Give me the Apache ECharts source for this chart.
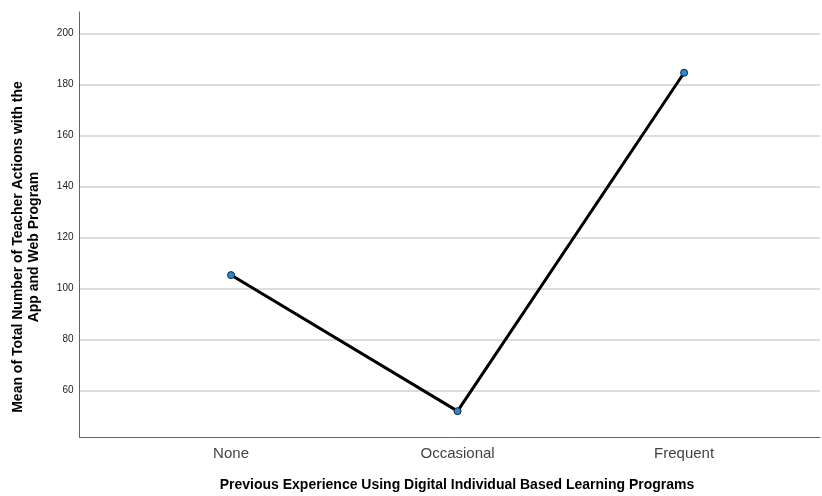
<!DOCTYPE html>
<html>
<head>
<meta charset="utf-8">
<script src="https://cdn.jsdelivr.net/npm/echarts@6/dist/echarts.min.js"></script>
<style>html,body{margin:0;padding:0;background:#fff;}#c{width:822px;height:496px;}</style>
</head>
<body>
<div id="c"></div>
<script>
const categories = ['None', 'Occasional', 'Frequent'];
const meanActions = [105.2, 51.8, 184.6];
const yTicks = [60, 80, 100, 120, 140, 160, 180, 200];
const xTitle = 'Previous Experience Using Digital Individual Based Learning Programs';
const yTitle = 'Mean of Total Number of Teacher Actions with the\nApp and Web Program';

const chart = echarts.init(document.getElementById('c'), null, {renderer: 'canvas'});
const gridColor = '#d2d2d2';
const splitColors = ['rgba(0,0,0,0)'].concat(yTicks.map(() => gridColor)).concat(['rgba(0,0,0,0)']);

chart.setOption({
  animation: false,
  backgroundColor: '#ffffff',
  grid: {left: 79.5, right: 2, top: 12, bottom: 59, containLabel: false},
  xAxis: {
    type: 'value',
    min: -0.669, max: 2.6,
    axisLine: {show: true, onZero: false, lineStyle: {color: '#666', width: 1}},
    axisTick: {show: false},
    splitLine: {show: false},
    axisLabel: {
      customValues: categories.map((c, i) => i),
      formatter: v => categories[Math.round(v)],
      color: '#444', fontSize: 15, fontFamily: 'Liberation Sans, Arial, sans-serif', margin: 9
    }
  },
  yAxis: {
    type: 'value',
    min: 41.66, max: 208.44,
    splitNumber: 8, minInterval: 20, maxInterval: 20,
    axisLine: {show: true, onZero: false, lineStyle: {color: '#666', width: 1}},
    axisTick: {show: false},
    splitLine: {show: true, lineStyle: {color: splitColors, width: 1.5}},
    axisLabel: {
      showMinLabel: false, showMaxLabel: false,
      color: '#222', fontSize: 10, fontFamily: 'Liberation Sans, Arial, sans-serif', margin: 6
    }
  },
  graphic: [
    {type: 'text', x: 26, y: 247, rotation: Math.PI / 2,
     style: {text: yTitle, font: 'bold 14px "Liberation Sans", Arial, sans-serif',
             fill: '#000', align: 'center', verticalAlign: 'middle', lineHeight: 16}},
    {type: 'text', x: 457, y: 485,
     style: {text: xTitle, font: 'bold 14px "Liberation Sans", Arial, sans-serif',
             fill: '#000', align: 'center', verticalAlign: 'middle'}}
  ],
  series: [{
    type: 'line',
    data: meanActions.map((v, i) => [i, v]),
    lineStyle: {color: '#000', width: 3},
    symbol: 'circle', symbolSize: 7,
    itemStyle: {color: '#1e8be0', borderColor: '#222', borderWidth: 1},
    z: 3
  }]
});
</script>
</body>
</html>
